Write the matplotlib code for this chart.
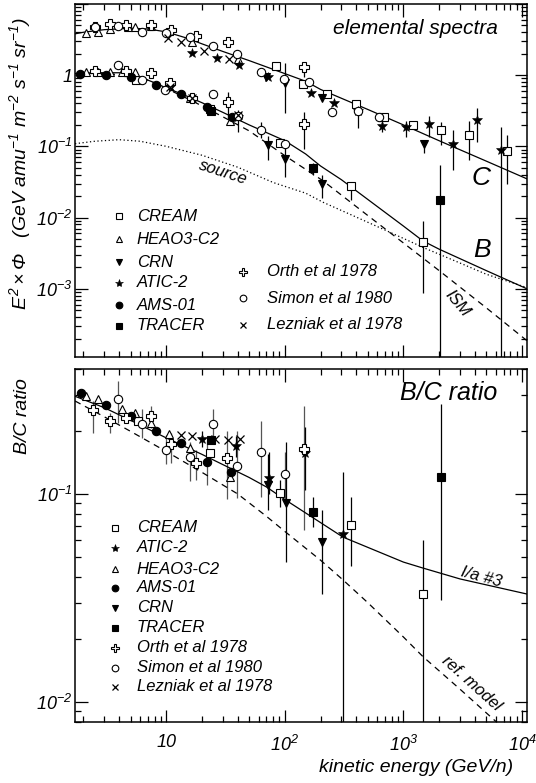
import matplotlib
matplotlib.use('Agg')
import matplotlib.pyplot as plt
from matplotlib.ticker import LogLocator, NullFormatter, FixedLocator, FixedFormatter

plt.rcParams['font.family'] = 'Liberation Sans'
plt.rcParams['font.style'] = 'italic'
plt.rcParams['mathtext.fontset'] = 'custom'
plt.rcParams['mathtext.rm'] = 'Liberation Sans:italic'
plt.rcParams['mathtext.it'] = 'Liberation Sans:italic'
plt.rcParams['mathtext.sf'] = 'Liberation Sans:italic'

# ---------------- model curves, top panel (E^2 x flux) ----------------
c_model_e = [1.7, 2, 3, 5, 7, 10, 15, 20, 30, 50, 100, 150, 200, 500, 1000, 2000, 5000, 11000]
c_model = [3.8, 4.0, 4.35, 4.55, 4.45, 4.05, 3.3, 2.75, 2.15, 1.6, 1.05, 0.82, 0.63, 0.33, 0.2, 0.12, 0.062, 0.035]

b_model_e = [1.7, 2, 3, 4, 5, 6.2, 8, 10, 13.3, 20, 30, 50, 100, 150, 200, 300, 500, 1000, 1460, 2000, 5000, 11000]
b_model = [1.05, 1.07, 1.08, 1.08, 1.02, 0.92, 0.78, 0.66, 0.55, 0.41, 0.3, 0.2, 0.12, 0.078, 0.053, 0.034, 0.018,
           0.0076, 0.0047, 0.0036, 0.0018, 0.001]

ism_model_e = [1.7, 3, 5, 7, 10, 15, 20, 30, 50, 100, 209, 500, 1000, 2000, 5000, 11000]
ism_model = [1.05, 1.06, 0.98, 0.85, 0.65, 0.47, 0.37, 0.26, 0.165, 0.074, 0.033, 0.0107, 0.0044, 0.0018,
             0.00054, 0.000187]

src_model_e = [1.7, 2.5, 4, 6, 10, 20, 40, 80, 150, 210, 500, 1000, 1470, 3000, 5000, 11000]
src_model = [0.109, 0.118, 0.124, 0.118, 0.1, 0.075, 0.051, 0.031, 0.022, 0.0164, 0.0086, 0.0051, 0.0038,
             0.0023, 0.0016, 0.00104]

# ---------------- data, top panel: carbon ----------------
cream_c_e = [85, 141, 228, 400, 692, 1200, 2090, 3600, 7460]
cream_c = [1.34, 0.76, 0.54, 0.39, 0.26, 0.20, 0.168, 0.146, 0.086]
heao_c_e = [2.1, 2.63, 3.35, 4.8, 5.5, 7.4, 16.4, 40]
heao_c = [3.87, 4.07, 4.5, 4.8, 4.8, 4.9, 2.95, 1.66]
crn_c_e = [70, 100, 205, 1500]
crn_c = [0.95, 0.77, 0.485, 0.107]
atic_c_e = [7.4, 16.4, 26.6, 41.3, 72, 165, 262, 410, 658, 1054, 1650, 2610, 4210, 6640]
atic_c = [4.9, 2.06, 1.75, 1.41, 0.95, 0.56, 0.41, 0.31, 0.193, 0.187, 0.204, 0.109, 0.232, 0.0898]
orth_c_e = [2.5, 3.35, 4.6, 7.4, 11, 17.7, 33, 145]
orth_c = [4.8, 5.2, 5.0, 5.1, 4.3, 3.56, 2.95, 1.28]
simon_c_e = [2.5, 3.94, 6.3, 10, 16, 25, 39.8, 62.7, 99, 161, 249, 410, 624]
simon_c = [4.8, 4.9, 4.07, 3.94, 3.46, 2.56, 1.96, 1.11, 0.87, 0.80, 0.30, 0.31, 0.26]
lez_c_e = [10.4, 13.3, 20.9, 33.9]
lez_c = [3.3, 2.9, 2.2, 1.66]

# ---------------- data, top panel: boron ----------------
cream_b_e = [5.6, 23.3, 91, 362, 1460]
cream_b = [0.85, 0.33, 0.111, 0.028, 0.0046]
heao_b_e = [2.1, 2.63, 3.35, 4.2, 4.8, 5.5, 10.6, 16, 34.5]
heao_b = [1.1, 1.12, 1.12, 1.1, 1.12, 1.12, 0.7, 0.48, 0.23]
crn_b_e = [72, 101, 204]
crn_b = [0.103, 0.067, 0.030]
atic_b_e = [10.8, 16.4, 40.5]
atic_b = [0.68, 0.48, 0.26]
ams_b_e = [1.87, 3.1, 5.0, 8.2, 13.3, 21.9, 35.6]
ams_b = [1.03, 1.02, 0.95, 0.72, 0.55, 0.36, 0.26]
tracer_b_e = [23.8, 172, 2040]
tracer_b = [0.31, 0.05, 0.0174]
orth_b_e = [2.5, 4.6, 7.4, 10.7, 16.4, 33, 145]
orth_b = [1.14, 1.15, 1.08, 0.78, 0.48, 0.42, 0.204]
simon_b_e = [3.94, 6.3, 9.8, 24.6, 40, 63, 100]
simon_b = [1.38, 0.85, 0.61, 0.55, 0.27, 0.168, 0.107]
lez_b_e = [10.8, 16.4, 40]
lez_b = [0.68, 0.48, 0.28]

# error bars, top panel
flux_err_e = [145, 100, 410, 658, 1054, 1650, 1500, 2090, 2610, 3600, 4210, 6640, 7460,
              145, 72, 101, 172, 204, 362, 1460, 2040, 33, 40, 63, 10.8, 23.8]
flux_err_lo = [0.95, 0.29, 0.18, 0.16, 0.135, 0.135, 0.08, 0.103, 0.046, 0.064, 0.115, 1e-6, 0.03,
               0.093, 0.064, 0.037, 0.039, 0.019, 0.0175, 0.00086, 1e-6, 0.27, 0.16, 0.13, 0.6, 0.28]
flux_err_hi = [1.54, 1.48, 0.44, 0.23, 0.23, 0.27, 0.12, 0.22, 0.168, 0.23, 0.34, 0.185, 0.143,
               0.30, 0.14, 0.114, 0.058, 0.039, 0.031, 0.0089, 0.054, 0.58, 0.32, 0.22, 0.85, 0.38]

# ---------------- bottom panel: B/C ratio ----------------
ref_model_e = [1.7, 3, 5, 10, 20, 40, 70, 100, 200, 309, 500, 1000, 1460, 3000, 5050, 10000]
ref_model = [0.28, 0.235, 0.2, 0.16, 0.127, 0.1, 0.078, 0.066, 0.048, 0.0386, 0.03, 0.0205, 0.0165,
             0.0115, 0.0088, 0.0062]
ia3_model_e = [1.7, 3, 5, 10, 20, 50, 70, 100, 309, 1000, 1460, 3000, 11000]
ia3_model = [0.295, 0.26, 0.226, 0.186, 0.155, 0.12, 0.108, 0.094, 0.062, 0.047, 0.044, 0.039, 0.033]

cream_r_e = [5.74, 23.3, 91, 362, 1460]
cream_r = [0.224, 0.158, 0.101, 0.071, 0.033]
atic_r_e = [20, 38.5, 73, 148, 308]
atic_r = [0.183, 0.17, 0.119, 0.158, 0.064]
heao_r_e = [2.12, 2.63, 4.2, 5.5, 7.4, 10.6, 16, 34.5]
heao_r = [0.296, 0.287, 0.255, 0.244, 0.22, 0.195, 0.167, 0.121]
ams_r_e = [1.9, 3.1, 5.0, 8.2, 13.3, 21.9, 35.2]
ams_r = [0.305, 0.268, 0.236, 0.2, 0.176, 0.142, 0.127]
crn_r_e = [72, 102, 204]
crn_r = [0.111, 0.09, 0.059]
tracer_r_e = [23.8, 172, 2070]
tracer_r = [0.181, 0.082, 0.121]
orth_r_e = [2.42, 3.35, 4.6, 7.4, 11, 17.7, 32.3, 146]
orth_r = [0.253, 0.224, 0.232, 0.236, 0.173, 0.141, 0.149, 0.165]
simon_r_e = [3.94, 6.3, 9.95, 15.9, 25, 39.8, 63, 100]
simon_r = [0.287, 0.216, 0.162, 0.151, 0.216, 0.137, 0.16, 0.125]
lez_r_e = [13.3, 16.4, 25.8, 33, 41.9]
lez_r = [0.192, 0.19, 0.183, 0.181, 0.183]

ratio_err_e = [72, 102, 91, 148, 172, 204, 308, 362, 1460, 2070, 73, 20, 38.5]
ratio_err_lo = [0.084, 0.047, 0.087, 0.105, 0.069, 0.033, 1e-6, 0.045, 1e-6, 0.031, 0.1, 0.168, 0.15]
ratio_err_hi = [0.155, 0.177, 0.117, 0.209, 0.097, 0.084, 0.127, 0.097, 0.06, 0.27, 0.16, 0.2, 0.19]
old_err_e = [2.42, 3.35, 7.4, 11, 17.7, 32.3, 146, 3.94, 6.3, 9.95, 15.9, 25, 39.8, 63, 100, 21.9]
old_err_lo = [0.197, 0.197, 0.208, 0.141, 0.117, 0.095, 0.067, 0.22, 0.185, 0.139, 0.115, 0.176, 0.096,
              0.097, 0.095, 0.11]
old_err_hi = [0.28, 0.246, 0.265, 0.197, 0.163, 0.2, 0.264, 0.35, 0.255, 0.193, 0.177, 0.255, 0.2, 0.224,
              0.16, 0.18]

# marker styles per experiment
styles = {
    'CREAM': dict(marker='s', ms=5.3, mfc='white', mec='black', mew=0.8),
    'HEAO3-C2': dict(marker='^', ms=6, mfc='white', mec='black', mew=0.8),
    'CRN': dict(marker='v', ms=5.5, mfc='black', mec='black', mew=0.8),
    'ATIC-2': dict(marker='*', ms=7.5, mfc='black', mec='black', mew=0.4),
    'AMS-01': dict(marker='o', ms=6, mfc='black', mec='black', mew=0.8),
    'TRACER': dict(marker='s', ms=5.3, mfc='black', mec='black', mew=0.8),
    'Orth et al 1978': dict(marker='P', ms=7, mfc='white', mec='black', mew=0.8),
    'Simon et al 1980': dict(marker='o', ms=6, mfc='white', mec='black', mew=0.8),
    'Lezniak et al 1978': dict(marker='x', ms=5.5, mfc='black', mec='black', mew=0.9),
}


def pts(ax, name, e, v):
    ax.plot(e, v, ls='none', zorder=4, **styles[name])


def vbars(ax, e, lo, hi, color='black'):
    ax.vlines(e, lo, hi, colors=color, lw=0.9, zorder=2)


def legend_entry(ax, name, xm, xt, y):
    st = dict(styles[name])
    st['ms'] = st['ms'] * 0.8
    ax.plot([xm], [y], ls='none', transform=ax.transAxes, clip_on=False, zorder=5, **st)
    ax.text(xt, y, name, transform=ax.transAxes, fontsize=12, va='center', ha='left')


def style_axes(ax):
    ax.set_xscale('log')
    ax.set_yscale('log')
    ax.set_xlim(1.7, 1.1e4)
    for sp in ax.spines.values():
        sp.set_linewidth(1.1)
    ax.tick_params(which='both', direction='in', top=True, right=True, width=0.9, labelsize=13)
    ax.tick_params(which='major', length=9, pad=2)
    ax.tick_params(which='minor', length=4.5)
    ax.xaxis.set_minor_locator(LogLocator(base=10, subs=range(2, 10), numticks=20))
    ax.yaxis.set_minor_locator(LogLocator(base=10, subs=range(2, 10), numticks=20))
    ax.xaxis.set_minor_formatter(NullFormatter())
    ax.yaxis.set_minor_formatter(NullFormatter())


fig = plt.figure(figsize=(5.36, 7.83), dpi=100)
ax1 = fig.add_axes([0.140, 0.544, 0.843, 0.451])
ax2 = fig.add_axes([0.140, 0.078, 0.843, 0.451])

# ================= top panel =================
style_axes(ax1)
ax1.set_ylim(1.1e-4, 10)
ax1.yaxis.set_major_locator(FixedLocator([1e-3, 1e-2, 1e-1, 1, 10]))
ax1.yaxis.set_major_formatter(FixedFormatter(['$10^{-3}$', '$10^{-2}$', '$10^{-1}$', '1', '']))
ax1.xaxis.set_major_locator(FixedLocator([10, 100, 1000, 10000]))
ax1.xaxis.set_major_formatter(NullFormatter())

ax1.plot(c_model_e, c_model, color='black', lw=0.9, zorder=3)
ax1.plot(b_model_e, b_model, color='black', lw=0.9, zorder=3)
ax1.plot(ism_model_e, ism_model, color='black', lw=0.9, ls=(0, (5, 4)), zorder=3)
ax1.plot(src_model_e, src_model, color='black', lw=0.9, ls=(0, (1, 2)), zorder=3)

vbars(ax1, flux_err_e, flux_err_lo, flux_err_hi)

pts(ax1, 'CREAM', cream_c_e, cream_c)
pts(ax1, 'HEAO3-C2', heao_c_e, heao_c)
pts(ax1, 'CRN', crn_c_e, crn_c)
pts(ax1, 'ATIC-2', atic_c_e, atic_c)
pts(ax1, 'Orth et al 1978', orth_c_e, orth_c)
pts(ax1, 'Simon et al 1980', simon_c_e, simon_c)
pts(ax1, 'Lezniak et al 1978', lez_c_e, lez_c)

pts(ax1, 'CREAM', cream_b_e, cream_b)
pts(ax1, 'HEAO3-C2', heao_b_e, heao_b)
pts(ax1, 'CRN', crn_b_e, crn_b)
pts(ax1, 'ATIC-2', atic_b_e, atic_b)
pts(ax1, 'AMS-01', ams_b_e, ams_b)
pts(ax1, 'TRACER', tracer_b_e, tracer_b)
pts(ax1, 'Orth et al 1978', orth_b_e, orth_b)
pts(ax1, 'Simon et al 1980', simon_b_e, simon_b)
pts(ax1, 'Lezniak et al 1978', lez_b_e, lez_b)

ax1.text(0.936, 0.915, 'elemental spectra', transform=ax1.transAxes, fontsize=15, ha='right', va='baseline')
ax1.text(0.898, 0.507, 'C', transform=ax1.transAxes, fontsize=19, ha='center', va='center')
ax1.text(0.900, 0.303, 'B', transform=ax1.transAxes, fontsize=19, ha='center', va='center')
ax1.text(0.327, 0.524, 'source', transform=ax1.transAxes, fontsize=12, ha='center', va='center', rotation=-18)
ax1.text(0.847, 0.153, 'ISM', transform=ax1.transAxes, fontsize=12, ha='center', va='center', rotation=-50)
ax1.text(-0.122, 0.96, r'$E^2\times\Phi$   (GeV amu$^{-1}$ m$^{-2}$ s$^{-1}$ sr$^{-1}$)',
         transform=ax1.transAxes, fontsize=14, rotation=90, ha='center', va='top')

left_names = ['CREAM', 'HEAO3-C2', 'CRN', 'ATIC-2', 'AMS-01', 'TRACER']
left_rows = [0.399, 0.334, 0.269, 0.210, 0.147, 0.088]
for n, y in zip(left_names, left_rows):
    legend_entry(ax1, n, 0.0973, 0.137, y)
right_names = ['Orth et al 1978', 'Simon et al 1980', 'Lezniak et al 1978']
right_rows = [0.241, 0.167, 0.091]
for n, y in zip(right_names, right_rows):
    legend_entry(ax1, n, 0.372, 0.425, y)

# ================= bottom panel =================
style_axes(ax2)
ax2.set_ylim(0.008, 0.4)
ax2.yaxis.set_major_locator(FixedLocator([1e-2, 1e-1]))
ax2.yaxis.set_major_formatter(FixedFormatter(['$10^{-2}$', '$10^{-1}$']))
ax2.xaxis.set_major_locator(FixedLocator([10, 100, 1000, 10000]))
ax2.xaxis.set_major_formatter(FixedFormatter(['10', '$10^2$', '$10^3$', '$10^4$']))
ax2.tick_params(axis='x', pad=9)

ax2.plot(ia3_model_e, ia3_model, color='black', lw=0.9, zorder=3)
ax2.plot(ref_model_e, ref_model, color='black', lw=0.9, ls=(0, (5, 4)), zorder=3)

vbars(ax2, old_err_e, old_err_lo, old_err_hi, color='#555555')
vbars(ax2, ratio_err_e, ratio_err_lo, ratio_err_hi)

pts(ax2, 'CREAM', cream_r_e, cream_r)
pts(ax2, 'ATIC-2', atic_r_e, atic_r)
pts(ax2, 'HEAO3-C2', heao_r_e, heao_r)
pts(ax2, 'AMS-01', ams_r_e, ams_r)
pts(ax2, 'CRN', crn_r_e, crn_r)
pts(ax2, 'TRACER', tracer_r_e, tracer_r)
pts(ax2, 'Orth et al 1978', orth_r_e, orth_r)
pts(ax2, 'Simon et al 1980', simon_r_e, simon_r)
pts(ax2, 'Lezniak et al 1978', lez_r_e, lez_r)

ax2.text(0.934, 0.912, 'B/C ratio', transform=ax2.transAxes, fontsize=18, ha='right', va='baseline')
ax2.text(0.900, 0.411, 'I/a #3', transform=ax2.transAxes, fontsize=12, ha='center', va='center', rotation=-15)
ax2.text(0.878, 0.110, 'ref. model', transform=ax2.transAxes, fontsize=12, ha='center', va='center', rotation=-42)
ax2.text(-0.117, 0.974, 'B/C ratio', transform=ax2.transAxes, fontsize=14, rotation=90, ha='center', va='top')
ax2.text(0.97, -0.13, 'kinetic energy (GeV/n)', transform=ax2.transAxes, fontsize=14, ha='right', va='center')

bc_names = ['CREAM', 'ATIC-2', 'HEAO3-C2', 'AMS-01', 'CRN', 'TRACER',
            'Orth et al 1978', 'Simon et al 1980', 'Lezniak et al 1978']
bc_rows = [0.55, 0.493, 0.433, 0.380, 0.323, 0.266, 0.210, 0.153, 0.099]
for n, y in zip(bc_names, bc_rows):
    legend_entry(ax2, n, 0.0885, 0.137, y)

fig.savefig('out.png', dpi=100)
